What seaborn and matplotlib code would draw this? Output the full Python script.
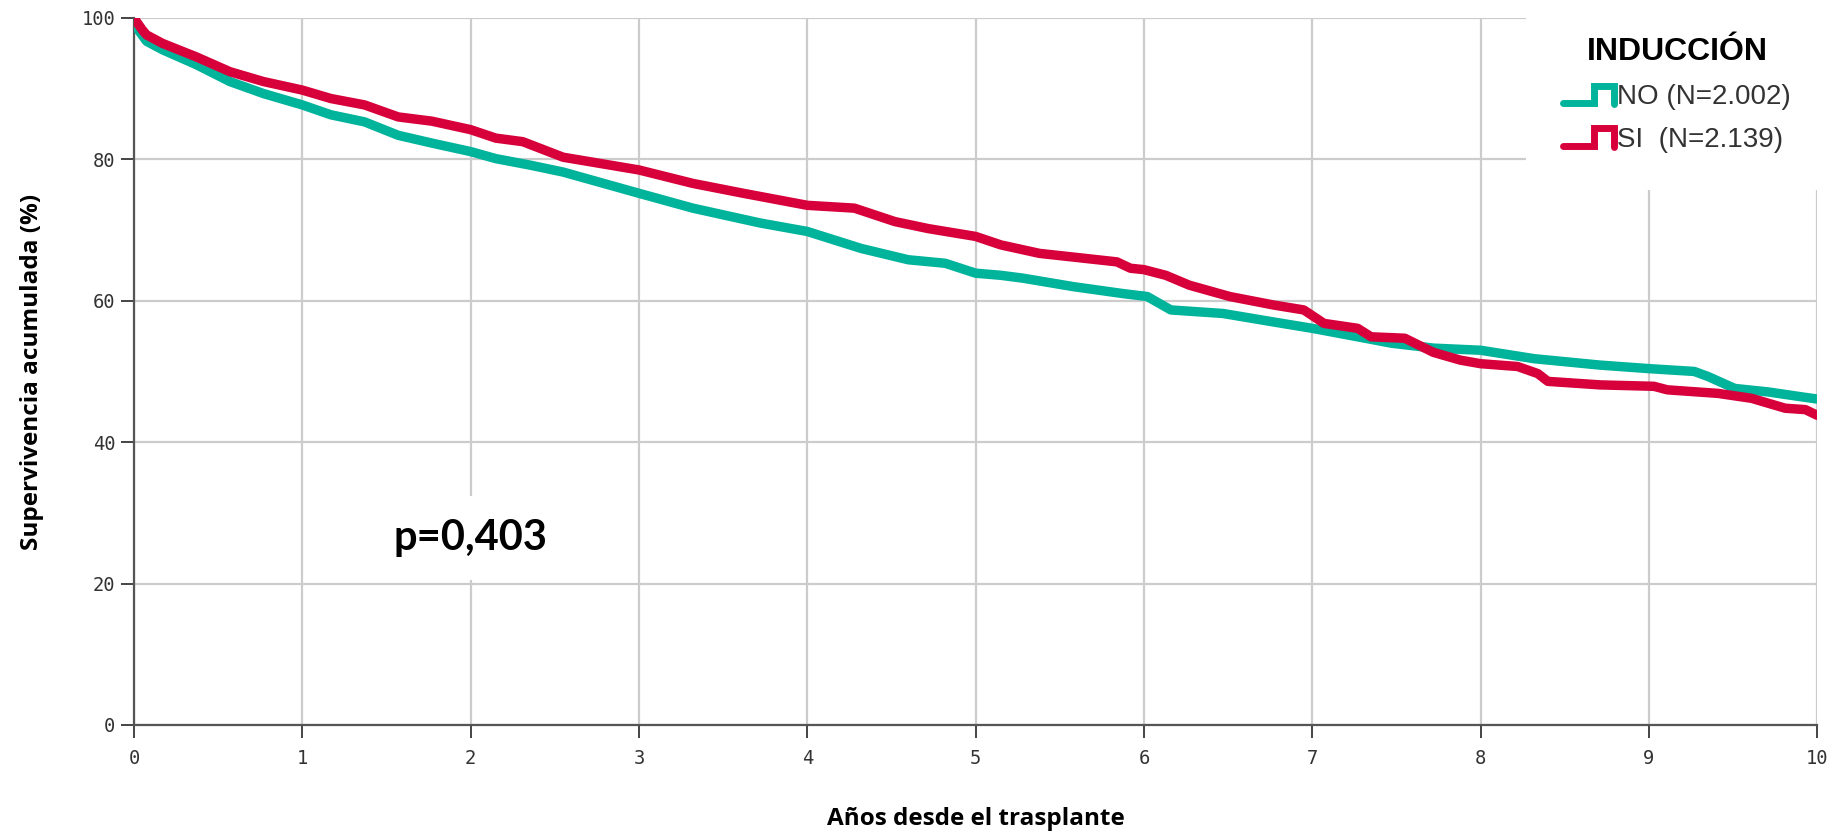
import numpy as np
import pandas as pd
import seaborn as sns
import matplotlib.pyplot as plt
from matplotlib.lines import Line2D
from matplotlib.legend_handler import HandlerBase

# survival readings (years, %) per induction group
no_years = [0, 0.02, 0.075, 0.17, 0.37, 0.57, 0.77, 1.0, 1.17, 1.37, 1.57, 1.77, 2.0, 2.15, 2.35,
            2.55, 3.0, 3.32, 3.72, 4.0, 4.32, 4.6, 4.82, 5.0, 5.15, 5.28, 5.58, 5.88, 6.02, 6.16,
            6.47, 6.77, 7.0, 7.27, 7.47, 7.72, 8.0, 8.32, 8.71, 9.0, 9.27, 9.35, 9.51, 9.71, 9.91, 10.0]
no_surv = [100, 98.5, 96.7, 95.5, 93.4, 91.0, 89.3, 87.7, 86.3, 85.3, 83.4, 82.3, 81.1, 80.1, 79.2,
           78.2, 75.2, 73.1, 71.0, 69.8, 67.4, 65.8, 65.3, 63.9, 63.6, 63.2, 62.0, 61.0, 60.6, 58.7,
           58.2, 57.0, 56.1, 54.9, 54.0, 53.3, 53.0, 51.8, 50.9, 50.4, 50.0, 49.3, 47.6, 47.1, 46.4, 46.1]

si_years = [0, 0.05, 0.075, 0.17, 0.37, 0.57, 0.77, 1.0, 1.17, 1.37, 1.57, 1.77, 2.0, 2.15, 2.31,
            2.55, 3.0, 3.32, 3.62, 4.0, 4.28, 4.52, 4.72, 5.0, 5.15, 5.38, 5.84, 5.92, 6.0, 6.13,
            6.27, 6.51, 6.77, 6.95, 7.07, 7.27, 7.35, 7.55, 7.72, 7.88, 8.0, 8.22, 8.34, 8.4, 8.71,
            9.03, 9.11, 9.41, 9.61, 9.81, 9.93, 10.0]
si_surv = [100, 98.3, 97.6, 96.4, 94.5, 92.4, 91.0, 89.8, 88.6, 87.7, 86.0, 85.4, 84.2, 83.0, 82.5,
           80.3, 78.5, 76.6, 75.2, 73.5, 73.1, 71.2, 70.2, 69.1, 67.9, 66.7, 65.5, 64.6, 64.4, 63.6,
           62.2, 60.6, 59.4, 58.7, 56.8, 56.1, 54.9, 54.7, 52.7, 51.6, 51.1, 50.7, 49.7, 48.6, 48.1,
           47.9, 47.4, 46.9, 46.2, 44.8, 44.6, 43.8]

labels = ["NO (N=2.002)", "SI  (N=2.139)"]
colors = ["#00B39B", "#D8003A"]
x_ticks = list(range(0, 11))
y_ticks = [0, 20, 40, 60, 80, 100]

df = pd.concat([
    pd.DataFrame({"years": no_years, "surv": no_surv, "grupo": labels[0]}),
    pd.DataFrame({"years": si_years, "surv": si_surv, "grupo": labels[1]}),
])

sns.set_style("white")
fig = plt.figure(figsize=(18.3, 8.31), dpi=100)
ax = fig.add_axes([0.0732, 0.1276, 0.9198, 0.8508])

sns.lineplot(data=df, x="years", y="surv", hue="grupo", palette=colors, estimator=None,
             sort=False, lw=6.8, legend=False, ax=ax, zorder=3)

ax.set_xlim(0, 10)
ax.set_ylim(0, 100)
ax.set_xticks(x_ticks)
ax.set_yticks(y_ticks)
ax.grid(True, color="#cccccc", lw=1.6)
ax.set_axisbelow(True)
for s in ["top", "right"]:
    ax.spines[s].set_visible(False)
for s in ["left", "bottom"]:
    ax.spines[s].set_color("#555555")
    ax.spines[s].set_linewidth(1.6)
ax.tick_params(direction="out", length=9.5, width=1.4, color="#444444", bottom=True, left=True,
               labelsize=13.5, labelcolor="#333333", pad=4)
for t in ax.get_xticklabels() + ax.get_yticklabels():
    t.set_fontfamily("DejaVu Sans Mono")
ax.tick_params(axis="x", pad=8)

ax.set_xlabel("Años desde el trasplante", fontfamily="Open Sans", fontweight="bold",
              fontsize=17.5, labelpad=28, color="black")
ax.set_ylabel("Supervivencia acumulada (%)", fontfamily="Open Sans", fontweight="bold",
              fontsize=17.5, labelpad=27, color="black")

ax.text(2.0, 26.4, "p=0,403", fontfamily="Lato", fontweight="bold", fontsize=30,
        ha="center", va="center", zorder=4, color="black",
        bbox=dict(boxstyle="square,pad=0.55", fc="white", ec="none"))


class StepHandler(HandlerBase):
    def create_artists(self, legend, orig_handle, xdescent, ydescent, width, height, fontsize, trans):
        xs = np.array([0, 0.6, 0.6, 1.0, 1.0]) * width - xdescent
        ys = np.array([0.05, 0.05, 0.95, 0.95, 0.0]) * height - ydescent
        line = Line2D(xs, ys, color=orig_handle.get_color(), lw=5, solid_joinstyle="miter")
        line.set_transform(trans)
        return [line]


handles = [Line2D([], [], color=c) for c in colors]
leg = ax.legend(handles, labels, title="INDUCCIÓN", loc="upper right", bbox_to_anchor=(0.996, 1.0),
                handler_map={Line2D: StepHandler()}, frameon=True, framealpha=1, edgecolor="none",
                fancybox=False, prop={"family": "Liberation Sans", "size": 20},
                handlelength=1.85, handletextpad=0.1, labelspacing=0.6, borderpad=0.6,
                borderaxespad=0.1)
leg.get_title().set_fontfamily("Liberation Sans")
leg.get_title().set_fontweight("bold")
leg.get_title().set_fontsize(23)
leg.get_title().set_color("black")
leg._legend_box.sep = 12
for t in leg.get_texts():
    t.set_color("#333333")
leg.set_zorder(5)
# white panel behind the legend is wider than its contents
leg.get_frame().set_boxstyle("square", pad=0.75)

fig.savefig("out.png", dpi=100)
